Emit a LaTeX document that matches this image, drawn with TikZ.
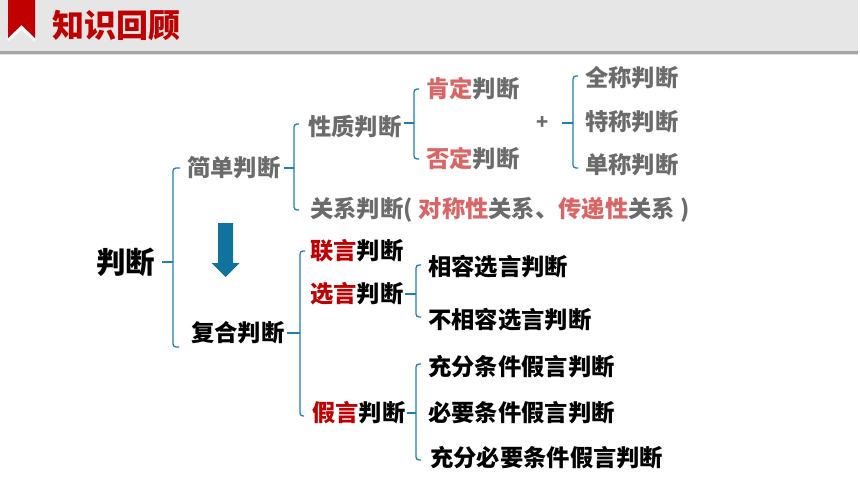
\documentclass[tikz,border=0pt]{standalone}
\usepackage{fontspec}
\setmainfont{Noto Sans CJK SC}
\definecolor{gtxt}{HTML}{6B6B6B}
\definecolor{salm}{HTML}{DB6464}
\definecolor{dred}{HTML}{C00000}
\definecolor{brc}{HTML}{1F7FAE}
\definecolor{arw}{HTML}{10739E}
\definecolor{band}{HTML}{E6E6E6}
\tikzset{
  lbl/.style={anchor=west,inner sep=0pt,font=\fontsize{23.3}{25}\selectfont\bfseries},
  graylbl/.style={lbl,text=gtxt},
  blacklbl/.style={lbl,text=black},
  br/.style={draw=brc,line width=1.3pt,rounded corners=3pt},
  tick/.style={draw=brc,line width=1.3pt}
}
\newcommand{\sal}[1]{\textcolor{salm}{#1}}
\newcommand{\drd}[1]{\textcolor{dred}{#1}}
\begin{document}
\begin{tikzpicture}[x=1pt,y=-1pt]
\useasboundingbox (0,0) rectangle (860,484);
\fill[white] (0,0) rectangle (860,484);
% header band
\fill[band] (0,0) rectangle (858,52);
\fill[black!35] (0,51) rectangle (858,54);
\fill[black!12] (0,54) rectangle (858,55.5);
% ribbon
\draw[white,line width=2.5pt] (8,40) -- (21.5,28) -- (35,40);
\fill[dred] (8,0) -- (35,0) -- (35,38) -- (21.5,25) -- (8,38) -- cycle;
\node[anchor=west,inner sep=0pt,text=dred,font=\fontsize{32}{33}\selectfont\bfseries] (title) at (52,26) {知识回顾};

% nodes
\node[blacklbl,font=\fontsize{29.5}{31}\selectfont\bfseries] (root) at (96,262) {判断};
\node[graylbl] (jd) at (187,168) {简单判断};
\node[blacklbl] (fh) at (191,333) {复合判断};
\node[graylbl] (xz) at (308,127) {性质判断};
\node[graylbl] (gx) at (310,210) {关系判断(\hspace{6pt}\sal{对称性}关系、\sal{传递性}关系\hspace{5pt})};
\node[graylbl] (kd) at (426,89) {\sal{肯定}判断};
\node[graylbl] (fd) at (426,159) {\sal{否定}判断};
\node[inner sep=0pt,text=gtxt,font=\fontsize{20}{22}\selectfont\bfseries] (plus) at (543,123) {+};
\node[graylbl] (qc) at (585,78) {全称判断};
\node[graylbl] (tc) at (585,122) {特称判断};
\node[graylbl] (dc) at (585,165) {单称判断};
\node[blacklbl] (ly) at (310,251) {\drd{联言}判断};
\node[blacklbl] (xy) at (310,294) {\drd{选言}判断};
\node[blacklbl] (jy) at (312,413) {\drd{假言}判断};
\node[blacklbl] (xr) at (428,267) {相容选言判断};
\node[blacklbl] (bxr) at (428,320) {不相容选言判断};
\node[blacklbl] (cf) at (428,367) {充分条件假言判断};
\node[blacklbl] (by) at (428,413) {必要条件假言判断};
\node[blacklbl] (cfby) at (430,458) {充分必要条件假言判断};

% arrow
\fill[arw] (218,223) -- (233,223) -- (233,263) -- (239.5,263) -- (225.5,277) -- (211.5,263) -- (218,263) -- cycle;

% brackets
\coordinate (b1) at (173,0);
\draw[tick] ([xshift=7pt]root.east |- root) -- (b1 |- root);
\draw[br] ([xshift=-7pt]jd.west) -- (b1 |- jd) -- (b1 |- 0,347) -- (179,347);

\coordinate (b2) at (294,0);
\draw[tick] ([xshift=3pt]jd.east) -- (b2 |- jd);
\draw[br] ([xshift=-9pt]xz.west |- 0,124) -- (b2 |- 0,124) -- (b2 |- gx) -- ([xshift=-11pt]gx.west);

\coordinate (b3) at (414,0);
\draw[tick] ([xshift=2pt]xz.east |- 0,123) -- (b3 |- 0,123);
\draw[br] ([xshift=-7pt]kd.west) -- (b3 |- kd) -- (b3 |- fd) -- ([xshift=-7pt]fd.west);

\coordinate (b4) at (573,0);
\draw[tick] ([xshift=13pt]plus.east) -- (b4 |- plus);
\draw[br] ([xshift=-7pt]qc.west |- 0,76) -- (b4 |- 0,76) -- (b4 |- 0,168) -- ([xshift=-7pt]dc.west |- 0,168);

\coordinate (b5) at (300,0);
\draw[tick] ([xshift=2pt]fh.east) -- (b5 |- fh);
\draw[br] ([xshift=-5pt]ly.west) -- (b5 |- ly) -- (b5 |- 0,416) -- ([xshift=-8pt]jy.west |- 0,416);

\coordinate (b6) at (416,0);
\draw[tick] ([xshift=1pt]xy.east) -- (b6 |- xy);
\draw[br] ([xshift=-7pt]xr.west |- 0,265) -- (b6 |- 0,265) -- (b6 |- 0,317) -- ([xshift=-7pt]bxr.west |- 0,317);

\draw[tick] ([xshift=1pt]jy.east) -- (b6 |- jy);
\draw[br] ([xshift=-7pt]cf.west |- 0,364) -- (b6 |- 0,364) -- (b6 |- 0,460) -- ([xshift=-9pt]cfby.west |- 0,460);
\end{tikzpicture}
\end{document}
